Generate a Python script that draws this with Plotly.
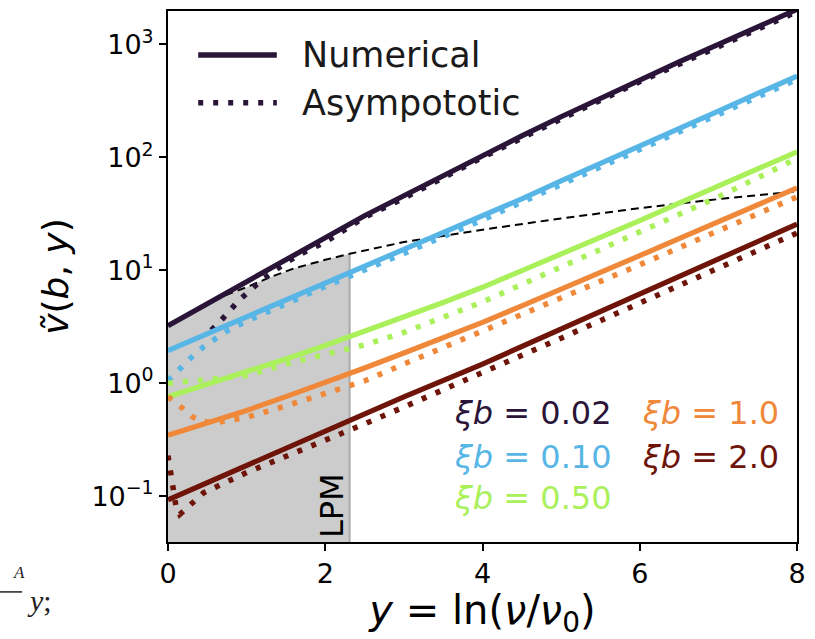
import plotly.graph_objects as go

# Evolution variable y = ln(nu/nu0) and the curves v~(b, y) for several xi*b
XB_LABELS = ["0.02", "0.10", "0.50", "1.0", "2.0"]
COLORS = ["#2a1538", "#58b6e6", "#aaf05a", "#f0883a", "#6e1408"]

# Numerical solutions
num_x = [
    [0, 0.5, 1, 1.5, 2, 2.5, 3, 3.5, 4, 4.5, 5, 5.5, 6, 6.5, 7, 7.5, 8],
    [0, 0.5, 1, 1.5, 2, 2.5, 3, 3.5, 4, 4.5, 5, 5.5, 6, 6.5, 7, 7.5, 8],
    [0, 0.5, 1, 1.5, 2, 2.5, 3, 3.5, 4, 4.5, 5, 5.5, 6, 6.5, 7, 7.5, 8],
    [0, 0.5, 1, 1.5, 2, 2.5, 3, 3.5, 4, 4.5, 5, 5.5, 6, 6.5, 7, 7.5, 8],
    [0, 1, 2, 3, 4, 5, 6, 7, 8],
]
num_v = [
    [3.24, 5.07, 7.94, 12.45, 19.5, 30.4, 45.7, 69.2, 104.7, 154.9, 229, 335, 490, 700, 1000, 1429, 2042],
    [1.95, 2.75, 3.9, 5.5, 7.8, 10.9, 15.2, 21.5, 30, 43, 62, 88, 126, 180, 257, 368, 525],
    [0.759, 0.977, 1.259, 1.641, 2.163, 2.884, 3.846, 5.188, 7.079, 9.886, 13.8, 19.5, 27.5, 39.4, 56.2, 79.4, 112],
    [0.347, 0.447, 0.575, 0.762, 1.012, 1.365, 1.854, 2.512, 3.467, 4.842, 6.761, 9.55, 13.49, 19.05, 26.92, 38.0, 53.7],
    [0.093, 0.188, 0.38, 0.76, 1.48, 3.02, 6.17, 12.6, 25.7],
]

# Asymptotic approximations
asy_x = [
    [0.55, 0.65, 0.9, 1.2, 1.5, 1.7, 2, 2.5, 3, 3.5, 4, 5, 6, 7, 8],
    [0, 0.15, 0.3, 0.45, 0.6, 0.75, 1, 1.5, 2, 3, 4, 5, 6, 7, 8],
    [0, 0.3, 0.6, 1, 1.5, 2, 2.5, 3, 3.5, 4, 4.5, 5, 5.5, 6, 6.5, 7, 7.5, 8],
    [0, 0.1, 0.2, 0.3, 0.45, 0.6, 1, 1.5, 2, 2.5, 3, 3.5, 4, 4.5, 5, 6, 7, 8],
    [0, 0.05, 0.1, 0.15, 0.25, 0.45, 1, 1.5, 2, 2.5, 3, 4, 5, 6, 7, 8],
]
asy_v = [
    [2.95, 3.45, 5.4, 8.3, 11.7, 14.1, 17.8, 29.5, 43.5, 66, 100, 219, 468, 955, 1950],
    [1.06, 1.35, 1.7, 2.1, 2.5, 2.9, 3.55, 5.1, 7.2, 14.1, 28, 57.5, 117, 240, 490],
    [1.0, 1.05, 1.1, 1.17, 1.48, 1.78, 2.19, 2.82, 3.85, 5.25, 7.5, 10.7, 15.3, 21.9, 31.3, 44.7, 66, 98],
    [0.76, 0.68, 0.59, 0.51, 0.457, 0.447, 0.50, 0.63, 0.81, 1.05, 1.48, 2.07, 2.88, 4.07, 5.75, 11.2, 22.4, 44.7],
    [0.229, 0.126, 0.083, 0.069, 0.079, 0.107, 0.162, 0.224, 0.316, 0.437, 0.617, 1.23, 2.51, 5.13, 10.5, 21.4],
]

# Saturation boundary (black dashed) and the LPM region limit
bound_x = [0, 0.25, 0.45, 0.7, 1, 1.3, 1.6, 2, 2.31, 3, 4, 5, 6, 7, 8]
bound_v = [3.24, 4.07, 4.85, 5.9, 7.1, 8.7, 10.4, 12.4, 14.0, 17.8, 22.9, 28.8, 35.5, 42.7, 50.1]
LPM_EDGE = 2.31
Y_FLOOR = 1e-3

X_TICKS = [0, 2, 4, 6, 8]
Y_TICKS = [0.1, 1, 10, 100, 1000]
Y_TICK_TEXT = ["10<sup>−1</sup>", "10<sup>0</sup>", "10<sup>1</sup>", "10<sup>2</sup>", "10<sup>3</sup>"]
Y_MINOR = [m * d for d in [0.01, 0.1, 1, 10, 100, 1000] for m in range(2, 10)]
Y_RANGE_LOG = [-1.405, 3.296]

FONT = "DejaVu Sans"
DOTS = "5px,10px"

fig = go.Figure()

# Shaded LPM region under the boundary curve
sx = [x for x in bound_x if x <= LPM_EDGE]
sv = [v for x, v in zip(bound_x, bound_v) if x <= LPM_EDGE]
fig.add_trace(go.Scatter(
    x=sx + [LPM_EDGE, sx[0]],
    y=sv + [Y_FLOOR, Y_FLOOR],
    mode="lines", fill="toself",
    fillcolor="rgb(204,204,204)",
    line=dict(width=0), hoverinfo="skip", showlegend=False,
))
fig.add_trace(go.Scatter(
    x=[LPM_EDGE, LPM_EDGE], y=[Y_FLOOR, sv[-1]],
    mode="lines", line=dict(color="rgb(170,170,170)", width=2),
    hoverinfo="skip", showlegend=False,
))

# Boundary curve
fig.add_trace(go.Scatter(
    x=bound_x, y=bound_v, mode="lines",
    line=dict(color="black", width=2, dash="8px,5px"),
    showlegend=False,
))

for i in range(len(XB_LABELS)):
    fig.add_trace(go.Scatter(
        x=asy_x[i], y=asy_v[i], mode="lines",
        line=dict(color=COLORS[i], width=5.5, dash=DOTS),
        showlegend=False,
    ))
    fig.add_trace(go.Scatter(
        x=num_x[i], y=num_v[i], mode="lines",
        line=dict(color=COLORS[i], width=5.2),
        showlegend=False,
    ))

# Legend keys
legend_rows = [("Numerical", None, 0.917), ("Asympototic", DOTS, 0.827)]
for label, dash, yp in legend_rows:
    fig.add_shape(type="line", xref="paper", yref="paper",
                  x0=0.048, x1=0.173, y0=yp, y1=yp,
                  line=dict(color=COLORS[0], width=5.5, dash=dash))
    fig.add_annotation(xref="paper", yref="paper", x=0.21, y=yp,
                       xanchor="left", yanchor="middle", showarrow=False,
                       text=label, font=dict(family=FONT, size=35, color="#1a1a1a"))

# xi*b labels
label_pos = [(0.451, 0.243), (0.451, 0.160), (0.451, 0.083), (0.751, 0.243), (0.751, 0.160)]
for i, (xp, yp) in enumerate(label_pos):
    fig.add_annotation(xref="paper", yref="paper", x=xp, y=yp,
                       xanchor="left", yanchor="middle", showarrow=False,
                       text=f"<i>ξb</i> = {XB_LABELS[i]}",
                       font=dict(family=FONT, size=32, color=COLORS[i]))

# LPM label along the region edge
fig.add_annotation(x=LPM_EDGE, y=Y_RANGE_LOG[0], xref="x", yref="y",
                   xanchor="right", yanchor="bottom", showarrow=False,
                   textangle=-90, text="LPM", xshift=3, yshift=2,
                   font=dict(family=FONT, size=32, color="black"))

# Fragment of neighbouring text at the lower left
fig.add_annotation(xref="paper", yref="paper", x=-0.25, y=-0.058,
                   xanchor="left", yanchor="middle", showarrow=False,
                   text="<i>A</i>", font=dict(family="Liberation Serif", size=17, color="#222"))
fig.add_shape(type="line", xref="paper", yref="paper",
              x0=-0.268, x1=-0.232, y0=-0.094, y1=-0.094,
              line=dict(color="#222", width=1.5))
fig.add_annotation(xref="paper", yref="paper", x=-0.228, y=-0.11,
                   xanchor="left", yanchor="middle", showarrow=False,
                   text="<i>y</i>;", font=dict(family="Liberation Serif", size=30, color="#222"))

fig.update_layout(
    width=815, height=639,
    margin=dict(l=168, r=17, t=9, b=97),
    paper_bgcolor="white", plot_bgcolor="white",
    font=dict(family=FONT, color="black"),
    showlegend=False,
    xaxis=dict(
        range=[0, 8], tickvals=X_TICKS, ticktext=[str(t) for t in X_TICKS],
        ticks="outside", ticklen=7, tickwidth=1.5, tickcolor="black",
        showline=True, linecolor="black", linewidth=2, mirror=True,
        showgrid=False, zeroline=False,
        tickfont=dict(size=27),
        title=dict(text="<i>y</i> = ln(<i>ν</i>/<i>ν</i><sub>0</sub>)",
                   font=dict(size=40), standoff=0),
    ),
    yaxis=dict(
        type="log", range=Y_RANGE_LOG, tickvals=Y_TICKS, ticktext=Y_TICK_TEXT,
        ticks="outside", ticklen=7, tickwidth=1.5, tickcolor="black",
        showline=True, linecolor="black", linewidth=2, mirror=True,
        showgrid=False, zeroline=False,
        tickfont=dict(size=27),
        title=dict(text="<i>ṽ</i>(<i>b</i>, <i>y</i>)", font=dict(size=36), standoff=12),
    ),
    # minor ticks of the log axis
    yaxis2=dict(
        type="log", range=Y_RANGE_LOG, overlaying="y", anchor="x", side="left",
        tickvals=Y_MINOR, showticklabels=False,
        ticks="outside", ticklen=4, tickwidth=1.2, tickcolor="black",
        showgrid=False, zeroline=False, showline=False,
    ),
)

fig.write_html("out.html")
